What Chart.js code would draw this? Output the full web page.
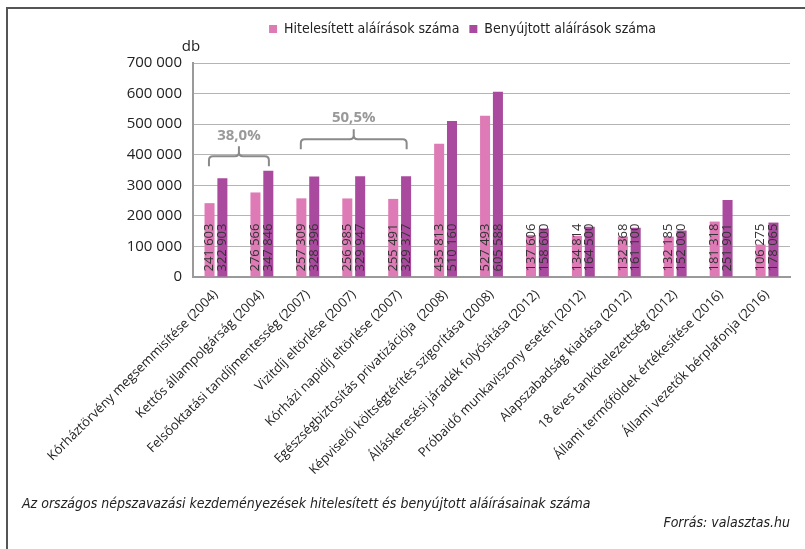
<!DOCTYPE html>
<html lang="hu">
<head>
    <meta charset="UTF-8">
    <title>Népszavazási kezdeményezések aláírásai</title>
    <script src="https://cdn.jsdelivr.net/npm/chart.js"></script>
    <style>
        body { margin: 0; background: #fff; }
        #wrap { position: relative; width: 805px; height: 549px; overflow: hidden; }
        #frame { position: absolute; left: 6px; top: 7px; width: 830px; height: 570px;
                 border-top: 2px solid #555; border-left: 2px solid #555; }
        canvas { position: absolute; left: 0; top: 0; }
        .note { position: absolute; font-family: "Liberation Sans Narrow", "DejaVu Sans Condensed", sans-serif;
                font-style: italic; font-size: 14px; color: #222; white-space: nowrap; }
    </style>
</head>
<body>
<div id="wrap">
    <div id="frame"></div>
    <canvas id="sigChart" width="805" height="549"></canvas>
    <div class="note" style="left:22px; top:495px;">Az országos népszavazási kezdeményezések hitelesített és benyújtott aláírásainak száma</div>
    <div class="note" style="right:15px; top:514px;">Forrás: valasztas.hu</div>
</div>
<script>
    // kezdeményezések (kategóriák)
    var categories = [
        'Kórháztörvény megsemmisítése (2004)',
        'Kettős állampolgárság (2004)',
        'Felsőoktatási tandíjmentesség (2007)',
        'Vizitdíj eltörlése (2007)',
        'Kórházi napidíj eltörlése (2007)',
        'Egészségbiztosítás privatizációja  (2008)',
        'Képviselői költségtérítés szigorítása (2008)',
        'Álláskeresési járadék folyósítása (2012)',
        'Próbaidő munkaviszony esetén (2012)',
        'Alapszabadság kiadása (2012)',
        '18 éves tankötelezettség (2012)',
        'Állami termőföldek értékesítése (2016)',
        'Állami vezetők bérplafonja (2016)'
    ];
    var hitelesitett = [241603, 276566, 257309, 256985, 255491, 435813, 527493, 137606, 134814, 132368, 132185, 181318, 106275];
    var benyujtott   = [322903, 347846, 328396, 329947, 329377, 510160, 605588, 158600, 164500, 161100, 152000, 251901, 178065];
    var yTicks = [0, 100000, 200000, 300000, 400000, 500000, 600000, 700000];

    // kapcsos zárójelek a csoportok fölött
    var bracketLabels = ['38,0%', '50,5%'];
    var bracketFrom = [0, 2];
    var bracketTo = [1, 4];

    function fmt(v) {
        return String(v).replace(/\B(?=(\d{3})+(?!\d))/g, ' ');
    }

    // jelmagyarázat: nagyobb hely alatta, kicsit jobbra tolva
    var legendPos = {
        id: 'legendPos',
        beforeInit: function(chart) {
            var origFit = chart.legend.fit;
            chart.legend.fit = function() {
                origFit.bind(chart.legend)();
                this.height += 17;
            };
        },
        afterLayout: function(chart) {
            chart.legend.left += 15;
            chart.legend.right += 15;
        }
    };

    var barLabels = {
        id: 'barLabels',
        afterDatasetsDraw: function(chart) {
            var ctx = chart.ctx;
            ctx.save();
            ctx.font = '13px "Open Sans"';
            ctx.fillStyle = '#333';
            ctx.textAlign = 'left';
            ctx.textBaseline = 'middle';
            chart.data.datasets.forEach(function(ds, i) {
                chart.getDatasetMeta(i).data.forEach(function(bar, j) {
                    ctx.save();
                    ctx.translate(bar.x, bar.base - 5);
                    ctx.rotate(-Math.PI / 2);
                    ctx.fillText(fmt(ds.data[j]), 0, 0);
                    ctx.restore();
                });
            });
            ctx.restore();
        }
    };

    var extras = {
        id: 'extras',
        afterDraw: function(chart) {
            var ctx = chart.ctx;
            var area = chart.chartArea;
            var xs = chart.scales.x, ys = chart.scales.y;
            ctx.save();
            // "db" egység felirat
            ctx.font = '15px "Open Sans"';
            ctx.fillStyle = '#222';
            ctx.textAlign = 'center';
            ctx.textBaseline = 'middle';
            ctx.fillText('db', area.left - 2, area.top - 16);

            // zárójelek
            var levels = [362000, 418000];
            ctx.strokeStyle = '#8a8a8a';
            ctx.lineWidth = 2;
            bracketLabels.forEach(function(txt, k) {
                var x1 = xs.getPixelForValue(bracketFrom[k]) - 7;
                var x2 = xs.getPixelForValue(bracketTo[k]) + 7;
                var xm = (x1 + x2) / 2;
                var yb = ys.getPixelForValue(levels[k]);
                var yh = yb - 10, yt = yh - 10, r = 4;
                ctx.beginPath();
                ctx.moveTo(x1, yb);
                ctx.lineTo(x1, yh + r);
                ctx.quadraticCurveTo(x1, yh, x1 + r, yh);
                ctx.lineTo(xm - r, yh);
                ctx.quadraticCurveTo(xm, yh, xm, yh - r);
                ctx.lineTo(xm, yt);
                ctx.moveTo(xm, yh - r);
                ctx.quadraticCurveTo(xm, yh, xm + r, yh);
                ctx.lineTo(x2 - r, yh);
                ctx.quadraticCurveTo(x2, yh, x2, yh + r);
                ctx.lineTo(x2, yb);
                ctx.stroke();
                ctx.font = 'bold 15px "Open Sans"';
                ctx.fillStyle = '#999';
                ctx.fillText(txt, xm, yt - 11);
            });
            ctx.restore();
        }
    };

    var ctx = document.getElementById('sigChart').getContext('2d');
    var sigChart = new Chart(ctx, {
        type: 'bar',
        data: {
            labels: categories,
            datasets: [{
                label: 'Hitelesített aláírások száma',
                data: hitelesitett,
                backgroundColor: '#de7bb6',
                categoryPercentage: 0.56,
                barPercentage: 0.78
            }, {
                label: 'Benyújtott aláírások száma',
                data: benyujtott,
                backgroundColor: '#aa4a9e',
                categoryPercentage: 0.56,
                barPercentage: 0.78
            }]
        },
        options: {
            responsive: false,
            animation: false,
            layout: { padding: { left: 105, right: 15, top: 12, bottom: 69 } },
            plugins: {
                legend: {
                    labels: {
                        boxWidth: 8,
                        boxHeight: 8,
                        padding: 10,
                        color: '#222',
                        font: { family: '"Liberation Sans Narrow", "DejaVu Sans Condensed", sans-serif', size: 14 }
                    }
                },
                tooltip: { enabled: false }
            },
            scales: {
                x: {
                    grid: { display: false },
                    border: { color: '#9a9a9a', width: 2 },
                    ticks: {
                        autoSkip: false,
                        minRotation: 45,
                        maxRotation: 45,
                        padding: 2,
                        color: '#222',
                        font: { family: '"Open Sans"', size: 13 }
                    }
                },
                y: {
                    min: 0,
                    max: 700000,
                    afterFit: function(scale) { scale.width = 88; },
                    afterBuildTicks: function(scale) {
                        scale.ticks = yTicks.map(function(v) { return { value: v }; });
                    },
                    grid: { color: '#b4b4b4', drawTicks: false },
                    border: { color: '#9a9a9a', width: 2 },
                    ticks: {
                        padding: 11,
                        color: '#222',
                        font: { family: '"Open Sans"', size: 15 },
                        callback: function(v) { return fmt(v); }
                    }
                }
            }
        },
        plugins: [legendPos, barLabels, extras]
    });
</script>
</body>
</html>
